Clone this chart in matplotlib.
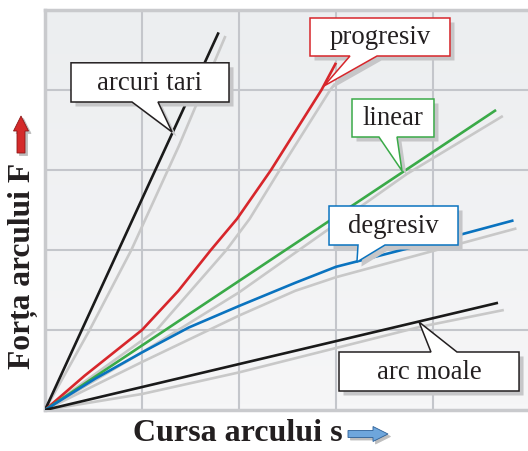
import matplotlib
matplotlib.use("Agg")
import matplotlib.pyplot as plt
import numpy as np
from matplotlib.patches import Polygon, FancyArrow
import matplotlib.transforms as mtransforms

# curve data (s, F), axes run 0..5 both ways
tari_s = [0, 1.79]
tari_F = [0, 4.72]
tari_gray_s = [0, 0.46, 0.89, 1.38, 1.86]
tari_gray_F = [0, 1.0, 2.0, 3.3, 4.675]

prog_s = [0, 0.41, 1.0, 1.375, 1.71, 1.98, 2.33, 2.85, 3.0]
prog_F = [0, 0.43, 1.0, 1.49, 2.0, 2.39, 3.0, 4.0, 4.34]
prog_gray_s = [0, 1.15, 1.87, 2.11, 2.42, 2.94, 2.99]
prog_gray_F = [0, 1.0, 2.0, 2.39, 3.0, 4.0, 4.08]

lin_s = [0, 4.65]
lin_F = [0, 3.75]
lin_gray_s = [0, 1.0, 2.0, 3.73, 4.72]
lin_gray_F = [0, 0.72, 1.47, 2.95, 3.675]

deg_s = [0, 0.515, 1.0, 1.48, 2.0, 2.58, 3.0, 4.0, 4.83]
deg_F = [0, 0.39, 0.72, 1.03, 1.30, 1.59, 1.79, 2.10, 2.37]
deg_gray_s = [0, 1.0, 2.0, 2.58, 3.0, 4.86]
deg_gray_F = [0, 0.6, 1.18, 1.49, 1.66, 2.27]

moale_s = [0, 4.67]
moale_F = [0, 1.34]
moale_gray_s = [0, 1.0, 2.0, 3.87, 4.73]
moale_gray_F = [0, 0.2, 0.47, 1.04, 1.25]

# callouts: text, edge colour, box (x0, x1, ybottom, ytop), pointer base (x0, x1), tip, side
labels = ["arcuri tari", "progresiv", "linear", "degresiv", "arc moale"]
label_colors = ["#231f20", "#d7262b", "#3aaa48", "#0a73bf", "#231f20"]
boxes = [(0.268, 1.897, 3.85, 4.34), (2.732, 4.175, 4.425, 4.9),
         (3.165, 4.01, 3.4125, 3.8875), (2.928, 4.258, 2.0625, 2.55),
         (3.031, 4.887, 0.2375, 0.725)]
bases = [(0.897, 1.165), (3.144, 3.423), (3.443, 3.629), (3.227, 3.505), (3.979, 4.247)]
tips = [(1.31, 3.475), (2.876, 4.05), (3.68, 2.99), (3.216, 1.85), (3.856, 1.10)]
sides = ["bottom", "bottom", "bottom", "bottom", "top"]

fig = plt.figure(figsize=(5.28, 4.52), dpi=100)
ax = fig.add_axes([45/528, 41/452, 485/528, 400/452])
ax.set_xlim(0, 5)
ax.set_ylim(0, 5)

# light background gradient
grad = np.linspace(0, 1, 64).reshape(-1, 1)
ax.imshow(grad, extent=(0, 5, 0, 5), aspect="auto", cmap=matplotlib.colors.LinearSegmentedColormap.from_list("bg", ["#f6f6f7", "#eceef0"]),
          origin="lower", zorder=0)

ax.set_xticks([1, 2, 3, 4])
ax.set_yticks([1, 2, 3, 4])
ax.tick_params(length=0, labelbottom=False, labelleft=False)
ax.grid(True, color="#c4c6cb", lw=1.5, zorder=1)
for sp in ax.spines.values():
    sp.set_color("#c9cacd")
    sp.set_linewidth(2.5)

gray = "#c8c8c8"
lw = 1.9
for s, F in [(tari_gray_s, tari_gray_F), (prog_gray_s, prog_gray_F), (lin_gray_s, lin_gray_F),
             (deg_gray_s, deg_gray_F), (moale_gray_s, moale_gray_F)]:
    ax.plot(s, F, color=gray, lw=lw, zorder=2, solid_capstyle="butt", solid_joinstyle="round")

kw = dict(lw=lw, zorder=3, solid_capstyle="butt", solid_joinstyle="round")
ax.plot(tari_s, tari_F, color="#1a1a1a", **kw)
ax.plot(prog_s, prog_F, color="#d7262b", **kw)
ax.plot(lin_s, lin_F, color="#3aaa48", **kw)
ax.plot(deg_s, deg_F, color="#0a73bf", **kw)
ax.plot(moale_s, moale_F, color="#1a1a1a", **kw)

# speech bubble callouts
shadow_tr = mtransforms.offset_copy(ax.transData, fig=fig, x=4.5, y=-4.5, units="dots")
for txt, col, (x0, x1, yb, yt), (b0, b1), (tx, ty), side in zip(labels, label_colors, boxes, bases, tips, sides):
    if side == "bottom":
        pts = [(x0, yb), (b0, yb), (tx, ty), (b1, yb), (x1, yb), (x1, yt), (x0, yt)]
    else:
        pts = [(x0, yb), (x1, yb), (x1, yt), (b1, yt), (tx, ty), (b0, yt), (x0, yt)]
    ax.add_patch(Polygon(pts, closed=True, facecolor="#c6c6c8", edgecolor="none",
                         transform=shadow_tr, zorder=4))
    ax.add_patch(Polygon(pts, closed=True, facecolor="white", edgecolor=col,
                         lw=1.1, zorder=5, joinstyle="miter"))
    ax.text((x0 + x1) / 2, (yb + yt) / 2, txt, ha="center", va="center",
            family="Liberation Serif", fontsize=19.3, color="#231f20", zorder=6)

# axis titles
fig.text(23/528, 1 - 266/452, "Forța arcului F", rotation=90, ha="center", va="center",
         family="Liberation Serif", fontweight="bold", fontsize=22.7, color="#231f20")
fig.text(238/528, 1 - 434/452, "Cursa arcului s", ha="center", va="center",
         family="Liberation Serif", fontweight="bold", fontsize=23, color="#231f20")

# little arrows next to the titles (in inches from bottom-left)
pt = fig.dpi_scale_trans
for dx, col in [(0.025, "#bdbdbd"), (0, None)]:
    fc = col if col else "#d42a2a"
    ec = col if col else "#8c1616"
    fig.patches.append(FancyArrow(0.21 + dx, (452 - 154) / 100 - dx, 0, 0.37, width=0.08,
                                  head_width=0.15, head_length=0.15, length_includes_head=True,
                                  facecolor=fc, edgecolor=ec, lw=0.6, transform=pt))
    fc = col if col else "#6ea6dc"
    ec = col if col else "#2c5f96"
    fig.patches.append(FancyArrow(3.48 + dx, (452 - 435) / 100 - dx, 0.40, 0, width=0.07,
                                  head_width=0.15, head_length=0.15, length_includes_head=True,
                                  facecolor=fc, edgecolor=ec, lw=0.6, transform=pt))

fig.savefig("out.png", dpi=100)
